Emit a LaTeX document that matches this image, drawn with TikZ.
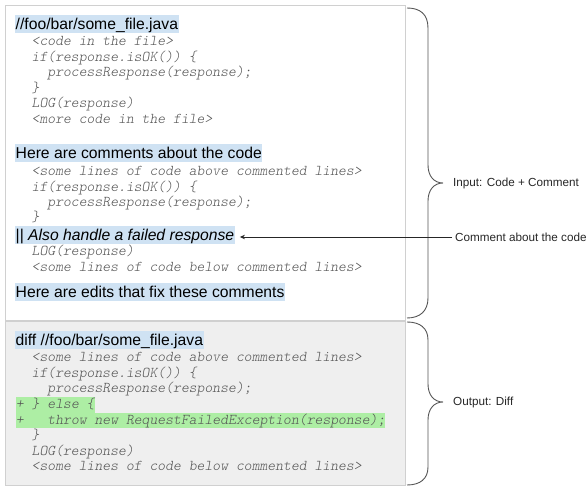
\documentclass[tikz,border=0pt]{standalone}
\usepackage{fontspec}
\setmainfont{Liberation Sans}
\newfontfamily\codefont{lmmonolt10-regular.otf}[ItalicFont=lmmonolt10-oblique.otf]
\usetikzlibrary{arrows.meta}
\definecolor{hlblue}{HTML}{CFE2F3}
\definecolor{hlgreen}{HTML}{ADEEA4}
\definecolor{panelgray}{HTML}{EFEFEF}
\definecolor{panelline}{HTML}{D0D0D0}
\definecolor{codegray}{HTML}{555555}
\definecolor{bracecol}{HTML}{555555}
\begin{document}
\begin{tikzpicture}[x=1pt,y=-1pt,
  hdr/.style={anchor=west,inner xsep=0.5pt,inner ysep=0pt,text height=14pt,text depth=3.5pt,fill=hlblue,font=\fontsize{15.7}{18}\selectfont},
  code/.style={anchor=west,inner sep=0pt,text height=11.5pt,text depth=4pt,text=codegray,font=\codefont\itshape\fontsize{14.97}{15}\selectfont},
  added/.style={code,fill=hlgreen},
  lbl/.style={anchor=west,inner sep=0pt,font=\fontsize{11.7}{14}\selectfont,text=black!85},
  brace/.style={draw=bracecol,line width=0.9pt},
  panel/.style={draw=panelline,line width=0.8pt}]
\useasboundingbox (0,0) rectangle (587,487);
% panels
\path[panel,fill=white] (5,5) rectangle (405,320);
\path[panel,fill=panelgray] (5,321) rectangle (405,485);
% top panel
\node[hdr] (h1) at (15,24) {//foo/bar/some\_file.java};
\node[code] (a1) at (31.5,42) {<code in the file>};
\node[code] (a2) at (31.5,57.5) {if(response.isOK()) \{};
\node[code] (a3) at (47.2,73) {processResponse(response);};
\node[code] (a4) at (31.5,88.5) {\}};
\node[code] (a5) at (31.5,104) {LOG(response)};
\node[code] (a6) at (31.5,119.5) {<more code in the file>};
\node[hdr] (h2) at (15,153) {Here are comments about the code};
\node[code] (b1) at (31.5,172) {<some lines of code above commented lines>};
\node[code] (b2) at (31.5,187.5) {if(response.isOK()) \{};
\node[code] (b3) at (47.2,203) {processResponse(response);};
\node[code] (b4) at (31.5,217.5) {\}};
\node[hdr] (also) at (15,235) {|| \textit{Also handle a failed response}};
\node[code] (b5) at (31.5,252) {LOG(response)};
\node[code] (b6) at (31.5,267.5) {<some lines of code below commented lines>};
\node[hdr] (h3) at (15,292) {Here are edits that fix these comments};
% bottom panel
\node[hdr] (h4) at (15,340) {diff //foo/bar/some\_file.java};
\node[code] (d1) at (31.5,358) {<some lines of code above commented lines>};
\node[code] (d2) at (31.5,373.5) {if(response.isOK()) \{};
\node[code] (d3) at (47.2,389) {processResponse(response);};
\node[added] (d4) at (15.8,405) {+ \} else \{};
\node[added] (d5) at (15.8,420.5) {+\ \ \ throw new RequestFailedException(response);};
\node[code] (d6) at (31.5,436) {\}};
\node[code] (d7) at (31.5,451.5) {LOG(response)};
\node[code] (d8) at (31.5,467) {<some lines of code below commented lines>};
% braces
\draw[brace] (407,8) .. controls (420,8) and (428,14) .. (428,28) -- (428,165)
  .. controls (428,176) and (434,183) .. (443,183)
  .. controls (434,183) and (428,190) .. (428,201) -- (428,298)
  .. controls (428,311) and (420,318) .. (407,318);
\draw[brace] (407,322) .. controls (420,322) and (428,328) .. (428,340) -- (428,384)
  .. controls (428,395) and (434,402) .. (443,402)
  .. controls (434,402) and (428,409) .. (428,420) -- (428,467)
  .. controls (428,479) and (420,485) .. (407,485);
% labels
\node[lbl] (inp) at (453,183) {Input: Code + Comment};
\node[lbl] (cmt) at (455,237) {Comment about the code};
\node[lbl] (outp) at (453,402) {Output: Diff};
\draw[-{Stealth[length=5pt,width=4.5pt]},line width=0.8pt,draw=black!85]
  ([xshift=-3pt]cmt.west) -- ([xshift=5pt]cmt.west -| also.east);
\end{tikzpicture}
\end{document}
